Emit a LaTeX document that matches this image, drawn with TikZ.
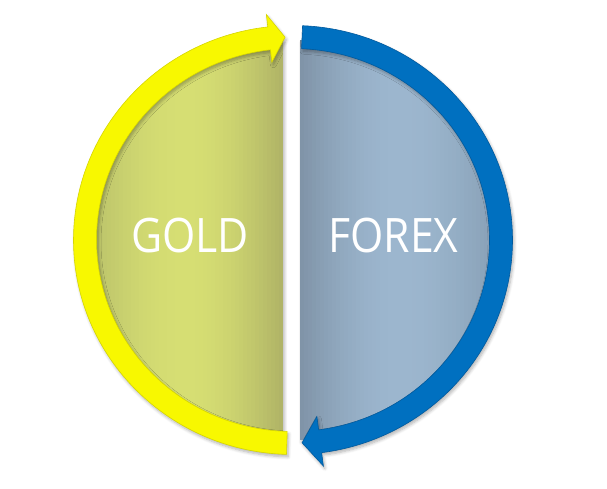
\documentclass[tikz,border=0pt]{standalone}
\usepackage{fontspec}
\setmainfont{Open Sans}
\usetikzlibrary{shadows.blur}
\definecolor{ringY}{HTML}{F8F800}
\definecolor{ringYd}{HTML}{D6D600}
\definecolor{ringB}{HTML}{0070C0}
\definecolor{ringBd}{HTML}{005A9E}
\definecolor{goldL}{HTML}{B7BF69}
\definecolor{goldM}{HTML}{D6DE73}
\definecolor{goldR}{HTML}{AFB366}
\definecolor{fxL}{HTML}{7F93A7}
\definecolor{fxM}{HTML}{9CB6CE}
\definecolor{fxR}{HTML}{869EB4}
\tikzset{
  softshadow/.style={blur shadow={shadow xshift=1.5pt, shadow yshift=-2.5pt, shadow blur steps=6, shadow blur radius=3pt, shadow opacity=30}},
  label text/.style={text=white, font=\fontsize{47.5}{50}\selectfont, anchor=base, inner sep=0pt}
}
\begin{document}
\begin{tikzpicture}[x=1pt,y=1pt]
\useasboundingbox (0,0) rectangle (607,488);
\begin{scope}[shift={(293,248)}]
  \def\goldpath{(92.8:205pt and 200pt) arc[start angle=92.8, end angle=267.2, x radius=205pt, y radius=200pt] -- cycle}
  \def\fxpath{(-88.04:205pt and 200pt) arc[start angle=-88.04, end angle=88.04, x radius=205pt, y radius=200pt] -- cycle}
  % gold half disc
  \fill[softshadow, goldM] \goldpath;
  \begin{scope}
    \clip \goldpath;
    \foreach \i in {0,...,48}{
      \pgfmathsetmacro{\xa}{-206+\i*4}
      \pgfmathsetmacro{\tt}{(\i+0.5)/49}
      \pgfmathsetmacro{\pp}{100*sin(180*\tt)}
      \ifdim\tt pt<0.5pt
        \fill[goldM!\pp!goldL] (\xa,-210) rectangle ++(4.6,420);
      \else
        \fill[goldM!\pp!goldR] (\xa,-210) rectangle ++(4.6,420);
      \fi
    }
  \end{scope}
  % forex half disc
  \fill[softshadow, fxM] \fxpath;
  \begin{scope}
    \clip \fxpath;
    \foreach \i in {0,...,49}{
      \pgfmathsetmacro{\xa}{7+\i*4}
      \pgfmathsetmacro{\tt}{(\i+0.5)/50}
      \pgfmathsetmacro{\pp}{100*sin(180*\tt)}
      \ifdim\tt pt<0.5pt
        \fill[fxM!\pp!fxL] (\xa,-210) rectangle ++(4.6,420);
      \else
        \fill[fxM!\pp!fxR] (\xa,-210) rectangle ++(4.6,420);
      \fi
    }
  \end{scope}
  % yellow ring with arrow head (bottom -> left -> top)
  \path[softshadow, fill=ringY, draw=ringYd, line width=0.6pt, line join=miter]
    (-91.7:219.5pt and 214.5pt)
    arc[start angle=-91.7, end angle=-263.4, x radius=219.5pt, y radius=214.5pt]
    -- (-263.4:232pt and 227pt)
    -- (-267.8:208pt and 203pt)
    -- (-263.4:184pt and 179pt)
    -- (-263.4:196.5pt and 191.5pt)
    arc[start angle=-263.4, end angle=-91.7, x radius=196.5pt, y radius=191.5pt]
    -- cycle;
  % blue ring with arrow head (top -> right -> bottom)
  \path[softshadow, fill=ringB, draw=ringBd, line width=0.6pt, line join=miter]
    (87.5:219.5pt and 214.5pt)
    arc[start angle=87.5, end angle=-82.5, x radius=219.5pt, y radius=214.5pt]
    -- (-82.5:233pt and 228pt)
    -- (-87.5:208pt and 203pt)
    -- (-82.5:183pt and 178pt)
    -- (-82.5:196.5pt and 191.5pt)
    arc[start angle=-82.5, end angle=87.5, x radius=196.5pt, y radius=191.5pt]
    -- cycle;
\end{scope}
\node[label text] (gold) at (190,236) {\scalebox{0.9}[1]{GOLD}};
\node[label text] (forex) at (393.5,236) {\scalebox{0.9}[1]{FOREX}};
\end{tikzpicture}
\end{document}
